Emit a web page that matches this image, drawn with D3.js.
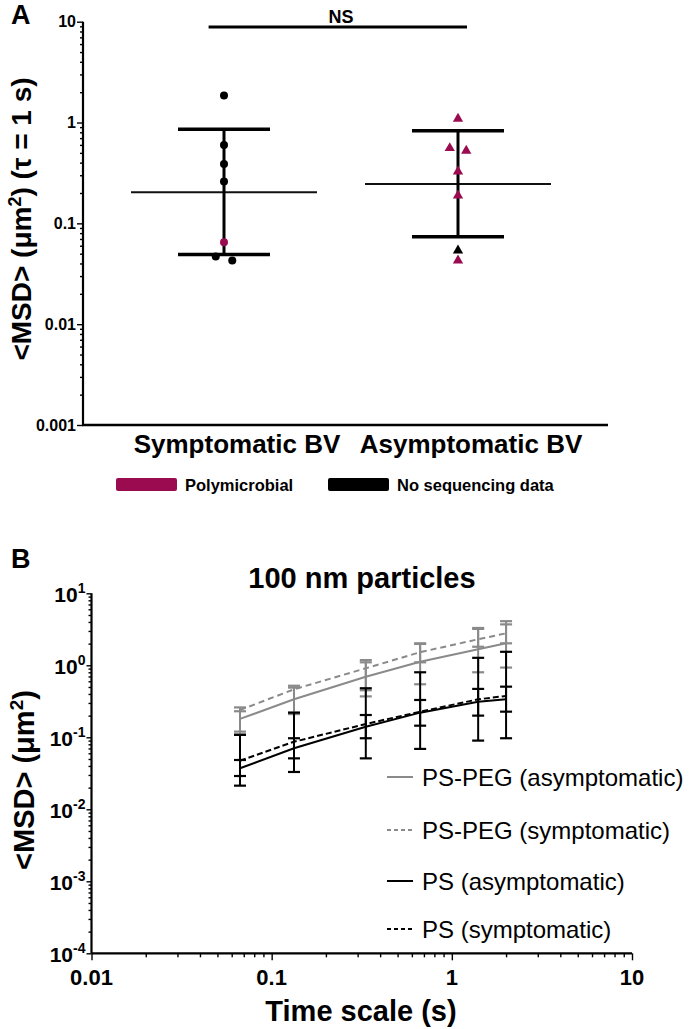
<!DOCTYPE html>
<html><head><meta charset="utf-8">
<script src="https://cdn.jsdelivr.net/npm/d3@7"></script>
<style>body{margin:0;background:#fff} svg{display:block} text{font-family:"Liberation Sans",Arial,sans-serif}</style>
</head><body><svg id="c" width="693" height="1029"></svg>
<script>
// ---------- Panel A data ----------
const categoriesA = ["Symptomatic BV", "Asymptomatic BV"];
const symptomaticValues = [1.85, 0.597, 0.387, 0.26, 0.065, 0.0469, 0.0428];
const symptomaticGroups = ["none", "none", "none", "none", "poly", "none", "none"];
const asymptomaticValues = [1.09, 0.557, 0.524, 0.327, 0.189, 0.0537, 0.0428];
const asymptomaticGroups = ["poly", "poly", "poly", "poly", "poly", "none", "poly"];
const meansA = [0.204, 0.245];
const upperA = [0.86, 0.828];
const lowerA = [0.049, 0.0735];
const ticksA = [0.001, 0.01, 0.1, 1, 10];
const tickLabelsA = ["0.001", "0.01", "0.1", "1", "10"];
const legendLabelsA = ["Polymicrobial", "No sequencing data"];
const legendKeysA = ["poly", "none"];
const sigLabel = "NS";

// ---------- Panel B data ----------
const timeScale = [0.0667, 0.133, 0.333, 0.667, 1.4, 2.0];
const pegAsym = [0.180, 0.337, 0.695, 1.12, 1.67, 2.02];
const pegAsymLow = [0.11, 0.21, 0.37, 0.545, 0.80, 0.93];
const pegAsymHigh = [0.23, 0.49, 1.10, 1.98, 3.2, 3.7];
const pegSym = [0.239, 0.464, 0.909, 1.52, 2.30, 2.78];
const pegSymLow = [0.12, 0.22, 0.45, 1.10, 1.81, 2.02];
const pegSymHigh = [0.26, 0.52, 1.18, 2.02, 3.3, 4.1];
const psAsym = [0.0371, 0.0703, 0.140, 0.220, 0.312, 0.337];
const psAsymLow = [0.029, 0.033, 0.097, 0.145, 0.20, 0.227];
const psAsymHigh = [0.0484, 0.097, 0.204, 0.33, 0.47, 0.505];
const psSym = [0.0473, 0.0868, 0.153, 0.227, 0.337, 0.375];
const psSymLow = [0.0213, 0.051, 0.051, 0.069, 0.09, 0.097];
const psSymHigh = [0.108, 0.22, 0.48, 0.80, 1.27, 1.54];
const seriesNamesB = ["PS-PEG (asymptomatic)", "PS-PEG (symptomatic)", "PS (asymptomatic)", "PS (symptomatic)"];
const yTickExpB = [1, 0, -1, -2, -3, -4];
const xTicksB = [0.01, 0.1, 1, 10];
const xTickLabelsB = ["0.01", "0.1", "1", "10"];
const titleB = "100 nm particles";
const xTitleB = "Time scale (s)";

// ---------- styles ----------
const MAGENTA = "#9a0b50";
const GREY = "#8a8a8a";
const colorA = {poly: MAGENTA, none: "#000"};

const svg = d3.select("#c");

// ================= PANEL A =================
const xA0 = 83, xA1 = 608, yTopA = 21.7, yBotA = 425;
const yA = d3.scaleLog().domain([0.001, 10]).range([yBotA, yTopA]);
const xA = d3.scalePoint().domain(categoriesA).range([224, 458]);

svg.append("text").attr("x", 11).attr("y", 24).attr("font-size", 27).attr("font-weight", "bold").text("A");

// y axis with minor ticks
const minorA = [];
for (let e = -3; e < 1; e++) for (let m = 1; m <= 9; m++) minorA.push(m * Math.pow(10, e));
minorA.push(10);
const gA = svg.append("g").attr("transform", `translate(${xA0},0)`)
  .call(d3.axisLeft(yA).tickValues(minorA).tickSize(6).tickFormat(() => ""));
gA.select(".domain").attr("stroke-width", 2.2).attr("d", `M0,${yTopA}V${yBotA}`);
gA.selectAll(".tick line").attr("stroke-width", 1.4)
  .attr("x2", d => Math.abs(Math.log10(d) - Math.round(Math.log10(d))) < 1e-6 ? -6 : -3);
ticksA.forEach((t, i) => {
  svg.append("text").attr("x", xA0 - 7).attr("y", yA(t)).attr("dy", "0.36em")
    .attr("text-anchor", "end").attr("font-size", 16).attr("font-weight", "bold").text(tickLabelsA[i]);
});
// x axis line
svg.append("line").attr("x1", xA0 - 1).attr("x2", xA1).attr("y1", yBotA).attr("y2", yBotA)
  .attr("stroke", "#000").attr("stroke-width", 2.4);
categoriesA.forEach(c => {
  svg.append("text").attr("x", xA(c) + 13).attr("y", 453).attr("text-anchor", "middle")
    .attr("font-size", 26).attr("font-weight", "bold").text(c);
});
// y title
const ytA = svg.append("text").attr("transform", `translate(31,219) rotate(-90)`)
  .attr("text-anchor", "middle").attr("font-size", 28).attr("font-weight", "bold");
ytA.append("tspan").text("<MSD> (\u03bcm");
ytA.append("tspan").attr("dy", -10).attr("font-size", 18).text("2");
ytA.append("tspan").attr("dy", 10).text(") (\u03c4 = 1 s)");

// error bars & means
const groupsA = [
  {cat: categoriesA[0], vals: symptomaticValues, grp: symptomaticGroups, shape: "circle"},
  {cat: categoriesA[1], vals: asymptomaticValues, grp: asymptomaticGroups, shape: "triangle"}
];
groupsA.forEach((g, i) => {
  const cx = xA(g.cat);
  svg.append("line").attr("x1", cx - 93).attr("x2", cx + 93).attr("y1", yA(meansA[i])).attr("y2", yA(meansA[i]))
    .attr("stroke", "#111").attr("stroke-width", 2);
  svg.append("line").attr("x1", cx).attr("x2", cx).attr("y1", yA(upperA[i])).attr("y2", yA(lowerA[i]))
    .attr("stroke", "#000").attr("stroke-width", 3);
  [upperA[i], lowerA[i]].forEach(v => {
    svg.append("line").attr("x1", cx - 46).attr("x2", cx + 46).attr("y1", yA(v)).attr("y2", yA(v))
      .attr("stroke", "#000").attr("stroke-width", 3.5);
  });
});
// points with simple dodge
groupsA.forEach(g => {
  const cx = xA(g.cat);
  const pts = g.vals.map((v, j) => ({v, grp: g.grp[j], y: yA(v)})).sort((a, b) => a.y - b.y);
  const clusters = [];
  pts.forEach(p => {
    const last = clusters[clusters.length - 1];
    if (last && p.y - last[last.length - 1].y < 6) last.push(p); else clusters.push([p]);
  });
  clusters.forEach(cl => cl.forEach((p, k) => { p.x = cx + (k - (cl.length - 1) / 2) * 16.5; }));
  pts.forEach(p => {
    if (g.shape === "circle") {
      svg.append("circle").attr("cx", p.x).attr("cy", p.y).attr("r", 4).attr("fill", colorA[p.grp]);
    } else {
      svg.append("path").attr("d", d3.symbol(d3.symbolTriangle, 46)()).attr("transform", `translate(${p.x},${p.y})`)
        .attr("fill", colorA[p.grp]);
    }
  });
});
// significance bar
svg.append("line").attr("x1", 208.6).attr("x2", 467).attr("y1", 27).attr("y2", 27).attr("stroke", "#000").attr("stroke-width", 3);
svg.append("text").attr("x", 341).attr("y", 23).attr("text-anchor", "middle").attr("font-size", 18).attr("font-weight", "bold").text(sigLabel);
// legend A
const legX = [116, 328];
legendLabelsA.forEach((l, i) => {
  svg.append("rect").attr("x", legX[i]).attr("y", 478).attr("width", 61).attr("height", 13).attr("rx", 2).attr("fill", colorA[legendKeysA[i]]);
  svg.append("text").attr("x", legX[i] + 69).attr("y", 491).attr("font-size", 16.5).attr("font-weight", "bold").text(l);
});

// ================= PANEL B =================
const xB0 = 91.5, xB1 = 632, yTopB = 593.3, yBotB = 953.3;
const xB = d3.scaleLog().domain([0.01, 10]).range([xB0, xB1]);
const yB = d3.scaleLog().domain([1e-4, 10]).range([yBotB, yTopB]);

svg.append("text").attr("x", 11).attr("y", 568).attr("font-size", 27).attr("font-weight", "bold").text("B");
svg.append("text").attr("x", 362).attr("y", 588).attr("text-anchor", "middle").attr("font-size", 29).attr("font-weight", "bold").text(titleB);

const minorBy = [];
for (let e = -4; e < 1; e++) for (let m = 1; m <= 9; m++) minorBy.push(m * Math.pow(10, e));
minorBy.push(10);
const gBy = svg.append("g").attr("transform", `translate(${xB0},0)`)
  .call(d3.axisLeft(yB).tickValues(minorBy).tickSize(5).tickFormat(() => ""));
gBy.select(".domain").attr("stroke-width", 2.2).attr("d", `M0,${yTopB}V${yBotB}`);
gBy.selectAll(".tick line").attr("stroke-width", 1.4)
  .attr("x2", d => Math.abs(Math.log10(d) - Math.round(Math.log10(d))) < 1e-6 ? -5 : -3);
yTickExpB.forEach(e => {
  const t = svg.append("text").attr("x", xB0 - 6).attr("y", yB(Math.pow(10, e))).attr("dy", "0.4em")
    .attr("text-anchor", "end").attr("font-size", 21).attr("font-weight", "bold");
  t.append("tspan").text("10");
  t.append("tspan").attr("dy", -9).attr("font-size", 14).text(String(e));
});
const minorBx = [];
for (let e = -2; e < 1; e++) for (let m = 1; m <= 9; m++) minorBx.push(m * Math.pow(10, e));
minorBx.push(10);
const gBx = svg.append("g").attr("transform", `translate(0,${yBotB})`)
  .call(d3.axisBottom(xB).tickValues(minorBx).tickSize(6).tickFormat(() => ""));
gBx.select(".domain").attr("stroke-width", 2.2).attr("d", `M${xB0},0H${xB1}`);
gBx.selectAll(".tick line").attr("stroke-width", 1.4)
  .attr("y2", d => Math.abs(Math.log10(d) - Math.round(Math.log10(d))) < 1e-6 ? 7 : 4);
xTicksB.forEach((t, i) => {
  svg.append("text").attr("x", xB(t)).attr("y", 985).attr("text-anchor", "middle")
    .attr("font-size", 22).attr("font-weight", "bold").text(xTickLabelsB[i]);
});
svg.append("text").attr("x", 361).attr("y", 1021).attr("text-anchor", "middle").attr("font-size", 29).attr("font-weight", "bold").text(xTitleB);
const ytB = svg.append("text").attr("transform", `translate(34,780) rotate(-90)`)
  .attr("text-anchor", "middle").attr("font-size", 29).attr("font-weight", "bold");
ytB.append("tspan").text("<MSD> (\u03bcm");
ytB.append("tspan").attr("dy", -11).attr("font-size", 19).text("2");
ytB.append("tspan").attr("dy", 11).text(")");

const seriesB = [
  {name: seriesNamesB[0], m: pegAsym, lo: pegAsymLow, hi: pegAsymHigh, color: GREY, dash: null},
  {name: seriesNamesB[1], m: pegSym, lo: pegSymLow, hi: pegSymHigh, color: GREY, dash: "6,4"},
  {name: seriesNamesB[2], m: psAsym, lo: psAsymLow, hi: psAsymHigh, color: "#000", dash: null},
  {name: seriesNamesB[3], m: psSym, lo: psSymLow, hi: psSymHigh, color: "#000", dash: "6,3"}
];
const lineB = d3.line().x(d => xB(d[0])).y(d => yB(d[1]));
[[0, 1], [2, 3]].forEach(pair => {
  pair.forEach(si => {
    const s = seriesB[si];
    timeScale.forEach((t, j) => {
      const x = xB(t);
      svg.append("line").attr("x1", x).attr("x2", x).attr("y1", yB(s.hi[j])).attr("y2", yB(s.lo[j]))
        .attr("stroke", s.color).attr("stroke-width", 2);
      [s.hi[j], s.lo[j]].forEach(v => svg.append("line").attr("x1", x - 6).attr("x2", x + 6)
        .attr("y1", yB(v)).attr("y2", yB(v)).attr("stroke", s.color).attr("stroke-width", 2.2));
    });
  });
  pair.forEach(si => {
    const s = seriesB[si];
    svg.append("path").datum(timeScale.map((t, j) => [t, s.m[j]])).attr("d", lineB)
      .attr("fill", "none").attr("stroke", s.color).attr("stroke-width", 2)
      .attr("stroke-dasharray", s.dash);
  });
});
// legend B
const legRowsB = [777, 830, 881, 929];
seriesB.forEach((s, i) => {
  svg.append("line").attr("x1", 387).attr("x2", 413).attr("y1", legRowsB[i]).attr("y2", legRowsB[i])
    .attr("stroke", s.color).attr("stroke-width", 2).attr("stroke-dasharray", s.dash ? "4,3" : null);
  svg.append("text").attr("x", 422).attr("y", legRowsB[i]).attr("dy", "0.36em").attr("font-size", 24).text(s.name);
});
</script></body></html>
